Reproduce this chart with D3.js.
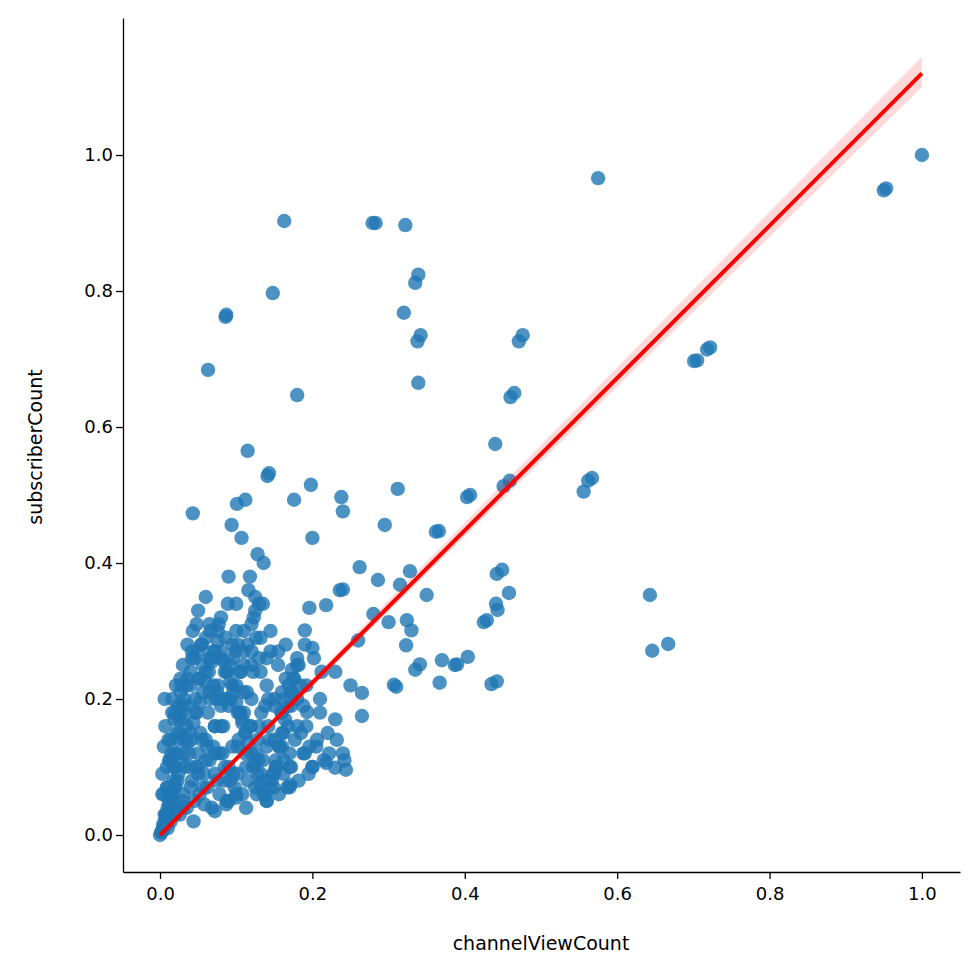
<!DOCTYPE html>
<html><head><meta charset="utf-8">
<script src="https://cdn.jsdelivr.net/npm/d3@7"></script>
<style>body{margin:0;background:#fff}</style></head>
<body><svg id="c" width="980" height="980"></svg>
<script>
const xTicks=[0.0,0.2,0.4,0.6,0.8,1.0];
const yTicks=[0.0,0.2,0.4,0.6,0.8,1.0];
const xLabel="channelViewCount", yLabel="subscriberCount";
const outX=[1.0,0.953,0.95,0.575,0.163,0.283,0.279,0.322,0.339,0.335,0.087,0.086,0.148,0.320,0.342,0.338,0.476,0.471,0.063,0.339,0.18,0.465,0.460,0.722,0.718,0.705,0.701,0.115,0.44,0.567,0.562,0.556,0.459,0.451,0.312,0.403,0.407,0.366,0.362,0.295,0.238,0.24,0.198,0.176,0.143,0.141,0.043,0.449,0.442,0.458,0.441,0.443,0.429,0.425,0.643,0.646,0.667,0.404,0.387,0.341,0.335,0.367,0.442,0.435,0.307,0.31,0.265,0.265,0.23,0.244,0.218,0.206,0.323,0.324,0.315,0.328,0.286,0.262,0.236,0.218,0.196,0.19,0.2,0.173,0.161,0.193,0.171,0.101,0.112,0.094,0.107,0.128,0.2,0.24,0.26,0.28,0.3,0.33,0.35,0.37,0.39];
const outY=[1.0,0.951,0.948,0.966,0.903,0.90,0.90,0.897,0.824,0.812,0.765,0.762,0.797,0.768,0.735,0.726,0.735,0.726,0.684,0.665,0.647,0.65,0.644,0.717,0.714,0.698,0.697,0.565,0.575,0.525,0.521,0.505,0.521,0.513,0.509,0.497,0.5,0.447,0.446,0.456,0.497,0.476,0.515,0.493,0.532,0.528,0.473,0.39,0.384,0.356,0.34,0.331,0.316,0.313,0.353,0.271,0.281,0.262,0.25,0.251,0.243,0.224,0.226,0.222,0.221,0.218,0.209,0.175,0.099,0.096,0.106,0.14,0.279,0.316,0.368,0.388,0.375,0.394,0.36,0.338,0.334,0.301,0.275,0.243,0.199,0.181,0.074,0.487,0.493,0.456,0.437,0.413,0.437,0.361,0.286,0.325,0.313,0.301,0.353,0.257,0.251];
const cluX=[0,0.002,0.004,0.006,0.008,0.01,0.012,0.015,0.018,0.02,0.022,0.025,0.028,0.003,0.005,0.007,0.009,0.011,0.013,0.016,0.019,0.021,0.024,0.027,0.03,0.033,0.036,0.04,0.043,0.046,0.05,0.053,0.056,0.06,0.063,0.066,0.07,0.073,0.076,0.08,0.083,0.086,0.09,0.093,0.096,0.1,0.103,0.106,0.11,0.113,0.116,0.12,0.123,0.126,0.13,0.133,0.136,0.14,0.145,0.15,0.155,0.16,0.165,0.17,0.175,0.18,0.185,0.19,0.2,0.21,0.22,0.23,0.24,0.25,0.014,0.017,0.023,0.026,0.031,0.035,0.038,0.042,0.045,0.048,0.052,0.055,0.058,0.062,0.065,0.068,0.072,0.075,0.078,0.082,0.085,0.088,0.092,0.095,0.098,0.102,0.105,0.108,0.112,0.115,0.118,0.122,0.125,0.128,0.132,0.135,0.138,0.142,0.147,0.152,0.157,0.162,0.167,0.172,0.177,0.182,0.188,0.195,0.205,0.215,0.01,0.02,0.03,0.04,0.05,0.06,0.07,0.08,0.09,0.1,0.11,0.12,0.13,0.14,0.15,0.16,0.17,0.18,0.005,0.015,0.025,0.035,0.045,0.055,0.065,0.075,0.085,0.095,0.105,0.115,0.125,0.135,0.145,0.155,0.165,0.002,0.008,0.012,0.018,0.03,0.044,0.058,0.072,0.087,0.1,0.113,0.127,0.14,0.006,0.016,0.028,0.04,0.052,0.064,0.076,0.088,0.1,0.035,0.05,0.065,0.08,0.095,0.11,0.125,0.02,0.032,0.046,0.06,0.074,0.088,0.102,0.118,
0.004,0.008,0.012,0.016,0.02,0.024,0.028,0.032,0.036,0.04,0.044,0.048,0.052,0.056,0.06,0.064,0.068,0.072,0.076,0.08,0.084,0.088,0.092,0.096,0.1,0.104,0.108,0.112,0.116,0.12,0.124,0.128,0.132,0.136,0.14,0.144,0.148,0.152,0.156,0.16,0.164,0.168,0.172,0.176,0.18,0.184,0.188,0.192,0.196,0.2,
0.006,0.012,0.018,0.024,0.03,0.036,0.042,0.048,0.054,0.06,0.066,0.072,0.078,0.084,0.09,0.096,0.102,0.108,0.114,0.12,0.126,0.132,0.138,0.144,0.15,0.156,0.162,0.168,0.174,0.18,
0.01,0.02,0.03,0.04,0.05,0.06,0.07,0.08,0.09,0.1,0.11,0.12,0.13,0.14,0.15,0.16,0.17,0.19,0.21,0.23,0.003,0.009,0.014,0.019,0.027,0.034,0.041,0.049,0.057,0.067,0.077,0.089,0.099,0.109,0.119,0.129,0.139,0.149,0.159,0.169,
0.012,0.022,0.032,0.042,0.052,0.062,0.072,0.082,0.092,0.102,0.112,0.122,0.132,0.142,0.152,0.162,0.172,0.182,0.192,0.202,0.212,0.222,0.232,0.242];
const cluY=[0,0.004,0.01,0.02,0.03,0.04,0.05,0.06,0.08,0.1,0.12,0.15,0.18,0.09,0.13,0.16,0.07,0.14,0.11,0.2,0.17,0.22,0.19,0.21,0.25,0.1,0.28,0.24,0.3,0.2,0.33,0.15,0.25,0.35,0.18,0.3,0.27,0.12,0.22,0.32,0.16,0.29,0.38,0.2,0.26,0.34,0.14,0.24,0.3,0.1,0.36,0.2,0.32,0.12,0.26,0.18,0.4,0.22,0.3,0.14,0.25,0.18,0.28,0.12,0.23,0.2,0.15,0.28,0.1,0.2,0.15,0.17,0.12,0.22,0.02,0.05,0.08,0.03,0.06,0.04,0.12,0.08,0.05,0.1,0.06,0.14,0.09,0.07,0.11,0.04,0.16,0.08,0.06,0.12,0.1,0.05,0.08,0.13,0.07,0.09,0.18,0.06,0.12,0.08,0.16,0.1,0.07,0.14,0.09,0.11,0.06,0.16,0.08,0.1,0.13,0.09,0.07,0.1,0.14,0.08,0.12,0.09,0.13,0.11,0.01,0.03,0.05,0.07,0.09,0.11,0.13,0.16,0.19,0.22,0.25,0.27,0.16,0.13,0.19,0.21,0.1,0.16,0.06,0.12,0.17,0.22,0.26,0.28,0.31,0.21,0.24,0.28,0.24,0.28,0.33,0.34,0.27,0.27,0.23,0.005,0.015,0.025,0.035,0.04,0.02,0.045,0.035,0.045,0.055,0.04,0.06,0.05,0.2,0.18,0.22,0.1,0.23,0.26,0.3,0.2,0.3,0.16,0.12,0.21,0.26,0.22,0.18,0.35,0.07,0.14,0.18,0.14,0.2,0.24,0.28,0.38,
0.015,0.03,0.045,0.06,0.075,0.09,0.105,0.12,0.135,0.15,0.165,0.18,0.195,0.21,0.225,0.24,0.255,0.27,0.285,0.27,0.255,0.24,0.225,0.21,0.195,0.18,0.165,0.15,0.135,0.12,0.105,0.09,0.075,0.06,0.05,0.07,0.09,0.11,0.13,0.15,0.17,0.19,0.21,0.23,0.25,0.22,0.19,0.16,0.13,0.1,
0.03,0.06,0.1,0.14,0.19,0.23,0.27,0.31,0.28,0.24,0.2,0.16,0.12,0.08,0.05,0.09,0.13,0.17,0.21,0.25,0.29,0.24,0.19,0.14,0.09,0.06,0.11,0.16,0.21,0.26,
0.07,0.12,0.17,0.22,0.27,0.29,0.22,0.19,0.1,0.06,0.27,0.31,0.34,0.26,0.2,0.13,0.07,0.12,0.18,0.24,0.06,0.1,0.14,0.18,0.23,0.19,0.14,0.1,0.07,0.26,0.31,0.34,0.27,0.21,0.16,0.11,0.08,0.07,0.18,0.22,
0.11,0.15,0.2,0.26,0.23,0.13,0.09,0.2,0.25,0.18,0.15,0.24,0.29,0.2,0.1,0.15,0.19,0.25,0.22,0.26,0.24,0.12,0.14,0.11];
const fitX=[0,1], fitY=[0,1.12], ciLo=[-0.002,1.10], ciHi=[0.002,1.145];

const svg=d3.select("#c");
const x=d3.scaleLinear().domain([-0.0486,1.05]).range([123,960]);
const y=d3.scaleLinear().domain([-0.0544,1.2015]).range([872,18]);
const col="#1f77b4";
const pts=outX.map((v,i)=>[v,outY[i]]).concat(cluX.map((v,i)=>[v,cluY[i]]));
svg.append("g").selectAll("circle").data(pts).join("circle")
 .attr("cx",d=>x(d[0])).attr("cy",d=>y(d[1])).attr("r",7.2)
 .attr("fill",col).attr("fill-opacity",0.8);
const band=d3.area().x((d,i)=>x(fitX[i])).y0((d,i)=>y(ciLo[i])).y1((d,i)=>y(ciHi[i]));
svg.append("path").datum(fitX).attr("d",band).attr("fill","red").attr("fill-opacity",0.15);
svg.append("line").attr("x1",x(fitX[0])).attr("y1",y(fitY[0])).attr("x2",x(fitX[1])).attr("y2",y(fitY[1]))
 .attr("stroke","red").attr("stroke-width",4);
const xa=svg.append("g").attr("transform","translate(0,872)").call(d3.axisBottom(x).tickValues(xTicks).tickFormat(d3.format(".1f")).tickSize(7).tickSizeOuter(0));
const ya=svg.append("g").attr("transform","translate(123,0)").call(d3.axisLeft(y).tickValues(yTicks).tickFormat(d3.format(".1f")).tickSize(7).tickSizeOuter(0));
[xa,ya].forEach(a=>{a.selectAll("text").style("font-size","18px").style("font-family","DejaVu Sans").attr("fill","#000");a.selectAll("line,path").attr("stroke","#000").attr("stroke-width",1.3);});
xa.selectAll("text").attr("dy","1.0em");
svg.append("text").attr("x",541).attr("y",950).attr("text-anchor","middle").style("font-size","19px").style("font-family","DejaVu Sans").text(xLabel);
svg.append("text").attr("transform","translate(42,447) rotate(-90)").attr("text-anchor","middle").style("font-size","19px").style("font-family","DejaVu Sans").text(yLabel);
</script></body></html>
